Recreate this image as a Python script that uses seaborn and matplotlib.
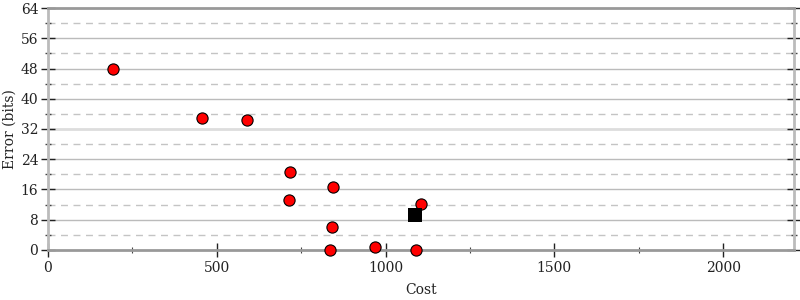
import matplotlib
matplotlib.use("Agg")
import matplotlib.pyplot as plt
import seaborn as sns
import pandas as pd
from matplotlib.ticker import MultipleLocator

cost = [193, 456, 589, 717, 844, 714, 1105, 841, 834, 969, 1090]
error = [48, 35, 34.4, 20.6, 16.7, 13.2, 12.1, 6.1, 0, 0.8, 0]
best_cost = [1087]
best_error = [9.2]

sns.set_theme(style="white")
plt.rcParams['font.family'] = ['DejaVu Serif']

fig = plt.figure(figsize=(8, 3), dpi=100)
ax = fig.add_axes([0.06, 0.1667, 0.9325, 0.8066])

# grid lines
for v in range(8, 64, 8):
    if v == 32:
        ax.axhline(v, color="#dddddd", lw=2, zorder=0)
    else:
        ax.axhline(v, color="#bbbbbb", lw=1, zorder=0)
for v in range(4, 64, 8):
    ax.axhline(v, color="#c4c4c4", lw=1, ls=(0, (5, 4)), zorder=0)

df = pd.DataFrame({"Cost": cost, "Error": error})
sns.scatterplot(data=df, x="Cost", y="Error", ax=ax, color="red",
                edgecolor="black", linewidth=0.8, s=65, zorder=3, clip_on=False)
dfb = pd.DataFrame({"Cost": best_cost, "Error": best_error})
sns.scatterplot(data=dfb, x="Cost", y="Error", ax=ax, color="black",
                marker="s", s=90, linewidth=0, zorder=4, clip_on=False)

ax.set_xlim(0, 2210)
ax.set_ylim(0, 64)
ax.xaxis.set_major_locator(MultipleLocator(500))
ax.xaxis.set_minor_locator(MultipleLocator(250))
ax.yaxis.set_major_locator(MultipleLocator(8))
ax.yaxis.set_minor_locator(MultipleLocator(4))

ax.spines['left'].set_color("#bbbbbb")
ax.spines['left'].set_linewidth(2)
ax.spines['right'].set_color("#bbbbbb")
ax.spines['right'].set_linewidth(2)
ax.spines['bottom'].set_color("#999999")
ax.spines['bottom'].set_linewidth(2)
ax.spines['top'].set_color("#999999")
ax.spines['top'].set_linewidth(2)

ax.tick_params(axis='y', which='major', direction='inout', length=10, width=1,
               color="#222222", labelsize=10, labelcolor="#222222", left=True, right=True, pad=2)
ax.tick_params(axis='y', which='minor', direction='inout', length=5, width=1,
               color="#444444", left=True, right=True)
ax.tick_params(axis='x', which='major', direction='inout', length=10, width=1,
               color="#222222", labelsize=10, labelcolor="#222222", bottom=True, pad=3)
ax.tick_params(axis='x', which='minor', direction='inout', length=5, width=0.8,
               color="#444444", bottom=True)

ax.set_xlabel("Cost", fontsize=10, color="#222222")
ax.set_ylabel("Error (bits)", fontsize=10, color="#222222")
ax.xaxis.set_label_coords(0.5, -0.135)
ax.yaxis.set_label_coords(-0.042, 0.5)

fig.savefig("out.png", dpi=100)
